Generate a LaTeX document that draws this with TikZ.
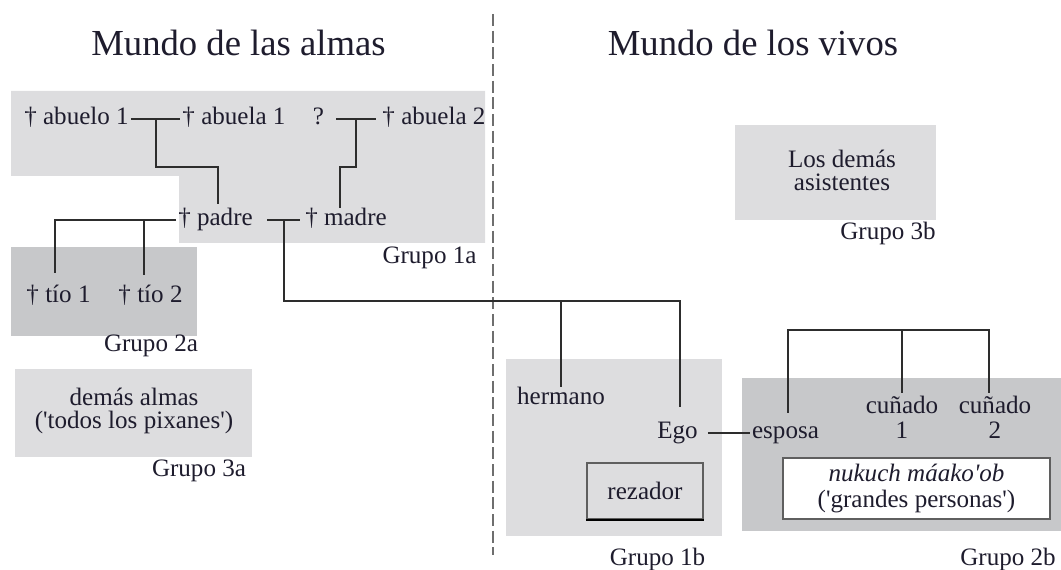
\documentclass[tikz,border=0pt]{standalone}
\usepackage{fontspec}
\setmainfont{Liberation Serif}
\usetikzlibrary{calc}
\definecolor{textcol}{RGB}{30,28,45}
\definecolor{lightbox}{RGB}{221,221,223}
\definecolor{darkbox}{RGB}{199,200,202}
\definecolor{linecol}{RGB}{45,45,45}
\definecolor{divcol}{RGB}{110,110,110}
\definecolor{boxborder}{RGB}{95,95,95}
\tikzset{
  person/.style={font=\fontsize{18.8}{22}\selectfont, text=textcol, text height=12pt, text depth=3pt, inner sep=1.5pt, anchor=base},
  twoline/.style={font=\fontsize{18.8}{#1}\selectfont, text=textcol, align=center, inner sep=1.5pt, anchor=base},
  grouplabel/.style={font=\fontsize{18.8}{22}\selectfont, text=textcol, inner sep=0pt, anchor=base},
  titletext/.style={font=\fontsize{27.5}{30}\selectfont, text=textcol, inner sep=0pt, anchor=base},
  conn/.style={draw=linecol, line width=1.5pt},
  divider/.style={draw=divcol, line width=2pt, dash pattern=on 9pt off 3.5pt},
}
\begin{document}
\begin{tikzpicture}[x=0.75pt,y=-0.75pt]
\useasboundingbox (0,0) rectangle (1061,570);
% group areas
\fill[lightbox] (11,91) -- (485,91) -- (485,243) -- (179,243) -- (179,176) -- (11,176) -- cycle;
\fill[darkbox] (11,247) rectangle (197,336);
\fill[lightbox] (15,369) rectangle (252,457);
\fill[lightbox] (735,125) rectangle (936,220);
\fill[lightbox] (506,359) rectangle (722,536);
\fill[darkbox] (742,378) rectangle (1061,531);
% divider
\coordinate (dtop) at (493,14);
\coordinate (dbot) at (493,555);
\draw[divider] (dtop) -- (dbot);
% titles
\node[titletext] (t1) at (238.5,56) {Mundo de las almas};
\node[titletext] (t2) at (753,56) {Mundo de los vivos};
% persons
\node[person] (abuelo1) at (76.5,125) {† abuelo 1};
\node[person] (abuela1) at (234,125) {† abuela 1};
\node[person] (q) at (318.5,125) {?};
\node[person] (abuela2) at (434,125) {† abuela 2};
\node[person] (padre) at (215.5,226) {† padre};
\node[person] (madre) at (346,226) {† madre};
\node[person] (tio1) at (58.5,303) {† tío 1};
\node[person] (tio2) at (150.5,303) {† tío 2};
\node[person] (hermano) at (561,405) {hermano};
\node[person] (ego) at (677.5,439) {Ego};
\node[person] (esposa) at (785.5,439) {esposa};
\node[twoline=19.5pt] (cun1) at (902,439) {cuñado\\1};
\node[twoline=19.5pt] (cun2) at (995,439) {cuñado\\2};
\node[twoline=17.25pt] (demas) at (134,429) {demás almas\\(\textquotesingle todos los pixanes\textquotesingle)};
\node[twoline=17.25pt] (asist) at (842,191) {Los demás\\asistentes};
\node[draw=boxborder, fill=lightbox, line width=1.2pt, minimum width=87pt, minimum height=42pt, inner sep=0pt,
      font=\fontsize{18.8}{22}\selectfont, text=textcol] (rezador) at (645,491) {rezador};
\draw[black, line width=1.6pt] (rezador.south west) -- (rezador.south east);
\node[draw=boxborder, fill=white, line width=1.2pt, minimum width=200pt, minimum height=45.75pt, inner sep=0pt,
      align=center, font=\fontsize{18.8}{19.5}\selectfont, text=textcol] (nukuch) at (916.5,488.5)
      {\textit{nukuch máako\textquotesingle ob}\\(\textquotesingle grandes personas\textquotesingle)};
% group labels
\node[grouplabel] (g1a) at (429.5,264) {Grupo 1a};
\node[grouplabel] (g2a) at (151,352) {Grupo 2a};
\node[grouplabel] (g3a) at (199,476) {Grupo 3a};
\node[grouplabel] (g3b) at (888,240) {Grupo 3b};
\node[grouplabel] (g1b) at (657.5,565) {Grupo 1b};
\node[grouplabel] (g2b) at (1008,565) {Grupo 2b};
% helper levels
\coordinate (yA) at (0,167);
\coordinate (yB) at (0,301);
\coordinate (yC) at (0,330);
% connectors: grandparents
\draw[conn] (abuelo1) -- (abuela1);
\coordinate (m1) at ($(abuelo1.east)!.5!(abuela1.west)$);
\draw[conn] (m1) -- (m1 |- yA) -| ([xshift=2pt,yshift=3pt]padre.north);
\draw[conn] ([xshift=7.5pt]q.east) -- ([xshift=-3pt]abuela2.west);
\coordinate (m2) at ($([xshift=7.5pt]q.east)!.5!([xshift=-3pt]abuela2.west)$);
\draw[conn] (m2) -- (m2 |- yA) -| ([xshift=-4.5pt]madre.north);
% padre to tios
\coordinate (t1top) at ($(tio1.north)+(-3.5,0)$);
\coordinate (t2top) at ($(tio2.north)+(-6.5,0)$);
\draw[conn, shorten >=9pt] (padre.west) -| (t1top);
\draw[conn, shorten >=7.5pt] (t2top |- padre.west) -- (t2top);
% padre - madre and children
\draw[conn] ([xshift=9pt]padre.east) -- ([xshift=-2pt]madre.west);
\coordinate (m3) at ($([xshift=9pt]padre.east)!.5!([xshift=-2pt]madre.west)$);
\coordinate (egotop) at ($(ego.north)+(2.5,0)$);
\draw[conn, shorten >=10.5pt] (m3) |- (yB -| egotop) -- (egotop);
\draw[conn] (hermano.north |- yB) -- (hermano.north);
% ego - esposa
\draw[conn] ([xshift=6pt]ego.east) -- (esposa.west);
% esposa siblings
\coordinate (espotop) at ($(esposa.north)+(2.5,-8)$);
\coordinate (c2top) at ($(cun2.north)+(-6,0)$);
\draw[conn] (espotop) |- (yC -| c2top) -- (c2top);
\draw[conn] (cun1.north |- yC) -- (cun1.north);
\end{tikzpicture}
\end{document}
